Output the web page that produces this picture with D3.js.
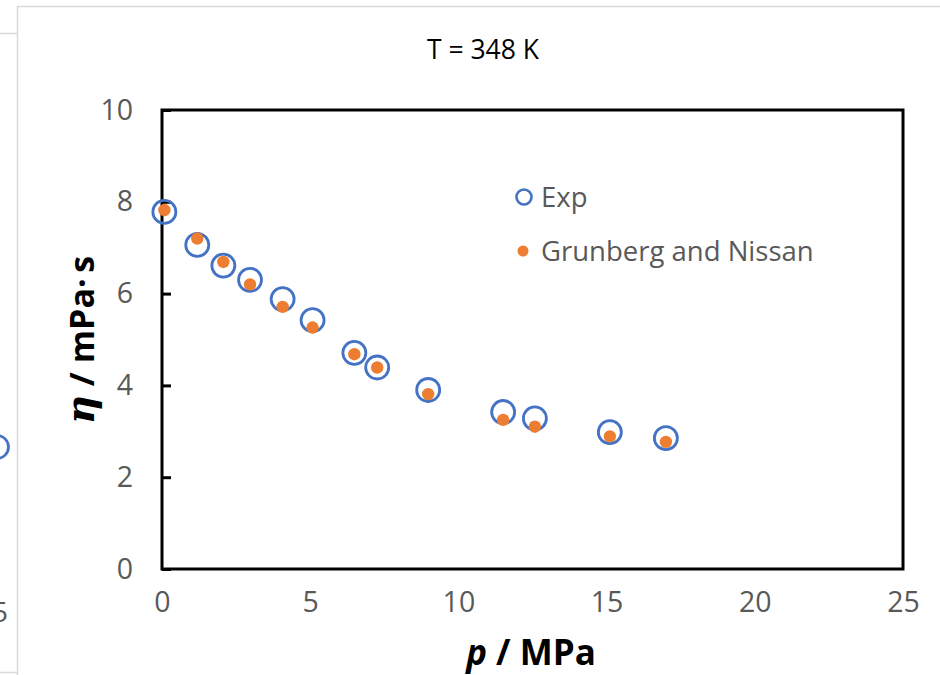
<!DOCTYPE html>
<html>
<head>
<meta charset="utf-8">
<script src="https://cdn.jsdelivr.net/npm/d3@7"></script>
<style>
  body { margin: 0; background: #fff; }
  svg { display: block; font-family: "Open Sans", sans-serif; }
</style>
</head>
<body>
<svg id="chart" width="940" height="675"></svg>
<script>
// pressure (MPa) of each measurement
var pressure = [0.08, 1.19, 2.07, 2.97, 4.07, 5.08, 6.49, 7.26, 8.98, 11.51, 12.58, 15.11, 17.0];
// experimental viscosity (mPa s)
var etaExp = [7.78, 7.06, 6.61, 6.30, 5.88, 5.42, 4.71, 4.39, 3.90, 3.42, 3.28, 2.98, 2.85];
// Grunberg and Nissan model
var etaGN = [7.82, 7.20, 6.69, 6.20, 5.71, 5.26, 4.68, 4.39, 3.81, 3.25, 3.10, 2.89, 2.77];
var xTicks = [0, 5, 10, 15, 20, 25];
var yTicks = [0, 2, 4, 6, 8, 10];
var seriesNames = ["Exp", "Grunberg and Nissan"];

var blue = "#4472c4";
var orange = "#ed7d31";
var gray = "#595959";
var frame = "#d9d9d9";

var svg = d3.select("#chart");
var plot = { left: 162, top: 110, right: 903, bottom: 569 };

var x = d3.scaleLinear().domain([0, 25]).range([plot.left, plot.right]);
var y = d3.scaleLinear().domain([0, 10]).range([plot.bottom, plot.top]);

// bits of the neighbouring chart that got cut into the picture
svg.append("line").attr("x1", 0).attr("x2", 17).attr("y1", 33.5).attr("y2", 33.5)
  .attr("stroke", frame).attr("stroke-width", 1.5);
svg.append("line").attr("x1", 0).attr("x2", 17).attr("y1", 672.5).attr("y2", 672.5)
  .attr("stroke", frame).attr("stroke-width", 1.5);
svg.append("circle").attr("cx", -3).attr("cy", 447).attr("r", 11.5)
  .attr("fill", "none").attr("stroke", blue).attr("stroke-width", 2.8);
svg.append("text").attr("x", 8).attr("y", 622).attr("text-anchor", "end")
  .attr("fill", gray).style("font-size", "28px").text("5");

// chart area frame
svg.append("path").attr("d", "M17.5,675V6.5H940")
  .attr("fill", "none").attr("stroke", frame).attr("stroke-width", 1.5);

// title
svg.append("text").attr("x", 483).attr("y", 59).attr("text-anchor", "middle")
  .attr("fill", "#000").style("font-size", "26.5px").text("T = 348 K");

// y axis, ticks point inward
var yAxis = svg.append("g").attr("transform", "translate(" + plot.left + ",0)")
  .call(d3.axisLeft(y).tickValues(yTicks).tickSize(-9).tickPadding(29));
yAxis.select(".domain").remove();
yAxis.selectAll("line").attr("stroke", "#000").attr("stroke-width", 3);
yAxis.selectAll("text").attr("fill", gray).style("font-size", "28.5px")
  .attr("font-family", "Open Sans");

var xAxis = svg.append("g").attr("transform", "translate(0," + plot.bottom + ")")
  .call(d3.axisBottom(x).tickValues(xTicks).tickSize(0).tickPadding(23));
xAxis.select(".domain").remove();
xAxis.selectAll("text").attr("fill", gray).style("font-size", "28.5px")
  .attr("font-family", "Open Sans");

// plot box
svg.append("rect")
  .attr("x", plot.left).attr("y", plot.top)
  .attr("width", plot.right - plot.left).attr("height", plot.bottom - plot.top)
  .attr("fill", "none").attr("stroke", "#000").attr("stroke-width", 3);

// axis titles
var xt = svg.append("text").attr("x", 531).attr("y", 665).attr("text-anchor", "middle")
  .attr("fill", "#000").style("font-size", "35px").style("font-weight", "bold");
xt.append("tspan").style("font-style", "italic").text("p");
xt.append("tspan").text(" / MPa");

var yt = svg.append("text")
  .attr("transform", "translate(94,340) rotate(-90)")
  .attr("text-anchor", "middle")
  .attr("fill", "#000").style("font-size", "34px").style("font-weight", "bold");
yt.append("tspan").style("font-style", "italic").style("font-family", "DejaVu Serif")
  .style("font-size", "40px").text("η");
yt.append("tspan").text(" / mPa·\u2009s");

// data
var pts = pressure.map(function (p, i) {
  return { p: p, exp: etaExp[i], gn: etaGN[i] };
});

svg.append("g").selectAll("circle")
  .data(pts)
  .enter().append("circle")
  .attr("cx", function (d) { return x(d.p); })
  .attr("cy", function (d) { return y(d.exp); })
  .attr("r", 11.5)
  .attr("fill", "none")
  .attr("stroke", blue)
  .attr("stroke-width", 2.8);

svg.append("g").selectAll("circle")
  .data(pts)
  .enter().append("circle")
  .attr("cx", function (d) { return x(d.p); })
  .attr("cy", function (d) { return y(d.gn); })
  .attr("r", 6.2)
  .attr("fill", orange);

// legend
var legend = svg.append("g");
legend.append("circle").attr("cx", 524).attr("cy", 197).attr("r", 7.5)
  .attr("fill", "none").attr("stroke", blue).attr("stroke-width", 2.6);
legend.append("circle").attr("cx", 523).attr("cy", 251).attr("r", 5.5)
  .attr("fill", orange);
legend.selectAll("text")
  .data(seriesNames)
  .enter().append("text")
  .attr("x", 541)
  .attr("y", function (d, i) { return 197 + i * 54; })
  .attr("dy", "0.35em")
  .attr("fill", gray)
  .style("font-size", "27.5px")
  .text(function (d) { return d; });
</script>
</body>
</html>
